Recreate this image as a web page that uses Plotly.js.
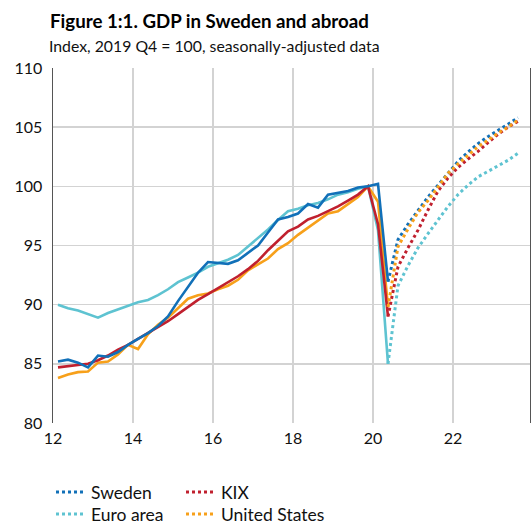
<!DOCTYPE html>
<html><head><meta charset="utf-8">
<script src="https://cdn.plot.ly/plotly-3.0.1.min.js"></script>
<style>html,body{margin:0;padding:0;background:#fff}</style>
</head><body><div id="chart" style="width:531px;height:524px"></div>
<script>
// Quarterly data, index 2019 Q4 = 100
const histStart = {year: 2012, quarter: 1};   // outcome 2012Q1 .. 2020Q2
const fcStart = {year: 2020, quarter: 2};     // forecast 2020Q2 .. 2023Q3

const swedenHist = [85.2, 85.35, 85.1, 84.7, 85.7, 85.6, 86.0, 86.6, 87.1, 87.6, 88.2, 89.0,
  90.3, 91.5, 92.7, 93.6, 93.5, 93.45, 93.75, 94.4, 95.0, 96.1, 97.2, 97.4,
  97.7, 98.5, 98.2, 99.3, 99.45, 99.6, 99.9, 100.0, 100.2, 91.95];
const euroHist = [90.0, 89.7, 89.5, 89.2, 88.9, 89.3, 89.6, 89.85, 90.2, 90.4, 90.8, 91.3,
  91.9, 92.3, 92.7, 93.2, 93.5, 93.8, 94.2, 94.9, 95.65, 96.35, 97.15, 97.9,
  98.1, 98.4, 98.6, 98.9, 99.3, 99.5, 99.8, 100.0, 96.3, 85.0];
const kixHist = [84.7, 84.8, 84.9, 85.0, 85.3, 85.7, 86.2, 86.6, 87.1, 87.6, 88.1, 88.6,
  89.2, 89.8, 90.4, 90.9, 91.4, 91.9, 92.4, 93.0, 93.7, 94.6, 95.4, 96.2,
  96.6, 97.2, 97.5, 97.9, 98.3, 98.8, 99.3, 100.0, 96.8, 89.0];
const usHist = [83.8, 84.1, 84.3, 84.35, 85.1, 85.2, 85.8, 86.6, 86.25, 87.5, 88.3, 88.9,
  89.7, 90.5, 90.8, 90.95, 91.3, 91.6, 92.1, 92.9, 93.4, 93.9, 94.7, 95.2,
  95.9, 96.5, 97.1, 97.7, 97.9, 98.5, 99.1, 100.0, 98.7, 89.8];

const swedenFc = [91.95, 95.5, 96.8, 98.0, 99.1, 100.1, 101.1, 102.1, 102.9, 103.6, 104.2, 104.7, 105.25, 105.8];
const euroFc = [85.0, 91.6, 93.3, 94.8, 96.0, 97.2, 98.3, 99.3, 100.1, 100.8, 101.25, 101.75, 102.2, 102.8];
const kixFc = [89.0, 93.2, 94.8, 96.3, 98.0, 99.6, 100.7, 101.6, 102.3, 102.95, 103.7, 104.4, 105.0, 105.5];
const usFc = [89.8, 94.9, 96.4, 97.8, 98.8, 100.0, 101.1, 101.9, 102.6, 103.35, 103.9, 104.5, 105.0, 105.6];

const seriesNames = ['Sweden', 'Euro area', 'KIX', 'United States'];
const xTickVals = [12, 14, 16, 18, 20, 22];
const xTickText = ['12', '14', '16', '18', '20', '22'];
const yTickVals = [80, 85, 90, 95, 100, 105, 110];

const colors = {'Sweden': '#1170b8', 'Euro area': '#5ec3d1', 'KIX': '#c0202e', 'United States': '#f7a01a'};

// x position of a quarter on the axis (years since 2000, mid-quarter)
function quarterX(start, n) {
  const out = [];
  for (let i = 0; i < n; i++) {
    const idx = (start.year - 2000) * 4 + (start.quarter - 1) + i;
    out.push(idx / 4 + 0.125);
  }
  return out;
}

const hist = {'Sweden': swedenHist, 'Euro area': euroHist, 'KIX': kixHist, 'United States': usHist};
const fc = {'Sweden': swedenFc, 'Euro area': euroFc, 'KIX': kixFc, 'United States': usFc};
// one legend box per entry, laid out as 2 columns x 2 rows
const legendOf = {'Sweden': 'legend', 'KIX': 'legend2', 'Euro area': 'legend3', 'United States': 'legend4'};

const drawOrder = ['Euro area', 'United States', 'KIX', 'Sweden'];
const traces = [];
drawOrder.forEach(name => {
  traces.push({
    x: quarterX(histStart, hist[name].length), y: hist[name], type: 'scatter', mode: 'lines',
    name: name, showlegend: false, hoverinfo: 'skip',
    line: {color: colors[name], width: 2.6}
  });
});
seriesNames.forEach(name => {
  traces.push({
    x: quarterX(fcStart, fc[name].length), y: fc[name], type: 'scatter', mode: 'lines',
    name: name, legend: legendOf[name],
    line: {color: colors[name], width: 3, dash: 'dot'}
  });
});

const legendCommon = {
  orientation: 'v', xref: 'container', yref: 'container', xanchor: 'left', yanchor: 'middle',
  bgcolor: 'rgba(0,0,0,0)',
  font: {family: 'Lato, sans-serif', size: 17.5, color: '#111'}
};
const col1 = 51 / 531, col2 = 181 / 531, row1 = 1 - 492 / 524, row2 = 1 - 514 / 524;

const layout = {
  width: 531, height: 524,
  margin: {l: 53, r: 1, t: 68, b: 101, autoexpand: false},
  paper_bgcolor: '#fff', plot_bgcolor: '#fff',
  font: {family: 'Lato, sans-serif', size: 16, color: '#111'},
  title: {
    text: '<b>Figure 1:1. GDP in Sweden and abroad</b>',
    xref: 'container', yref: 'container', x: 50 / 531, xanchor: 'left',
    y: 1 - 21 / 524, yanchor: 'middle',
    font: {family: 'Lato, sans-serif', size: 18.7, color: '#000'}
  },
  annotations: [{
    text: 'Index, 2019 Q4 = 100, seasonally-adjusted data',
    xref: 'paper', yref: 'paper', x: (47 - 53) / 477, y: (423 - 45) / 355,
    xanchor: 'left', yanchor: 'middle', showarrow: false,
    font: {family: 'Lato, sans-serif', size: 15.8, color: '#111'}
  }],
  xaxis: {
    range: [12, 23.925], tickvals: xTickVals, ticktext: xTickText, automargin: false,
    showgrid: true, gridcolor: '#d3d3d3', gridwidth: 1.5, zeroline: false,
    showline: false, ticks: '', ticklabelstandoff: 4,
    tickfont: {family: 'Lato, sans-serif', size: 16, color: '#111'}
  },
  yaxis: {
    range: [80, 110], tickvals: yTickVals, automargin: false,
    showgrid: true, gridcolor: '#d3d3d3', gridwidth: 1.5, zeroline: false,
    showline: true, linecolor: '#555', linewidth: 1.5, mirror: true, ticks: '',
    ticklabelstandoff: 6,
    tickfont: {family: 'Lato, sans-serif', size: 16, color: '#111'}
  },
  legend: Object.assign({}, legendCommon, {x: col1, y: row1}),
  legend2: Object.assign({}, legendCommon, {x: col2, y: row1}),
  legend3: Object.assign({}, legendCommon, {x: col1, y: row2}),
  legend4: Object.assign({}, legendCommon, {x: col2, y: row2}),
  showlegend: true
};

Plotly.newPlot('chart', traces, layout, {displayModeBar: false, staticPlot: true});
</script></body></html>
